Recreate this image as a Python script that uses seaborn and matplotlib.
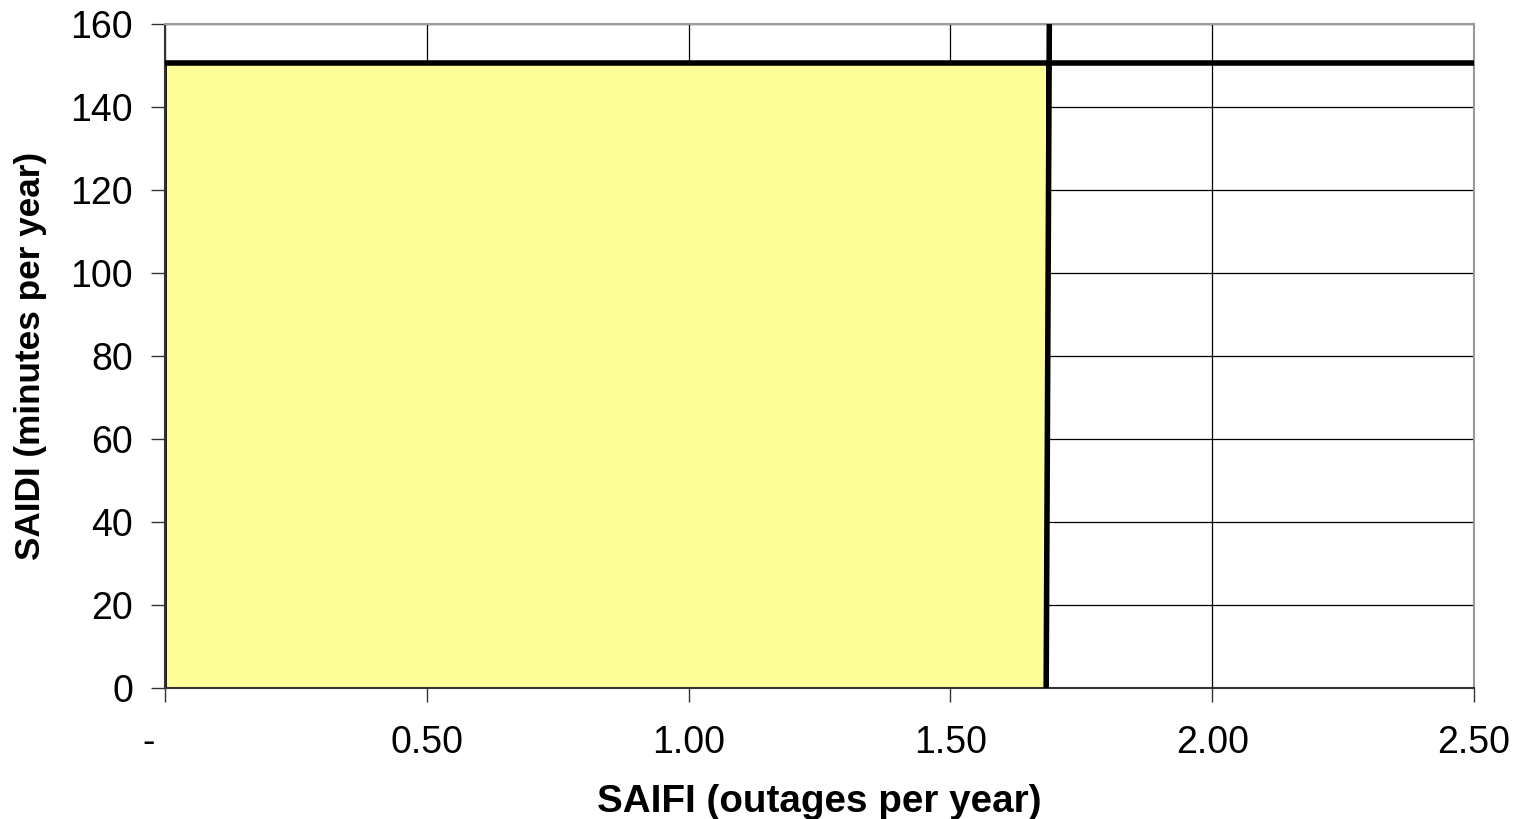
import numpy as np
import pandas as pd
import matplotlib
matplotlib.use("Agg")
import matplotlib.pyplot as plt
import seaborn as sns

# data
saifi_limit = [1.683, 1.689]      # vertical threshold line (bottom, top)
saidi_limit = 150.5               # horizontal threshold line
x_range = [0.0, 2.5]
y_range = [0.0, 160.0]
box_x = [0.0, 1.685]              # yellow "acceptable" region
x_ticks = [0.0, 0.5, 1.0, 1.5, 2.0, 2.5]
x_tick_labels = ["-   ", "0.50", "1.00", "1.50", "2.00", "2.50"]
y_ticks = [0, 20, 40, 60, 80, 100, 120, 140, 160]

sns.set_style("white")
plt.rcParams["font.family"] = ["Liberation Sans", "DejaVu Sans"]
plt.rcParams["text.color"] = "black"
plt.rcParams["axes.labelcolor"] = "black"

fig = plt.figure(figsize=(15.23, 8.19), dpi=100)
ax = fig.add_axes([0.1083, 0.16, 0.8595, 0.8107])

# region
ax.fill_between(box_x, [0, 0], [saidi_limit, saidi_limit], color="#FFFF99",
                edgecolor="black", linewidth=2, zorder=2)

h_line = pd.DataFrame({"x": x_range, "y": [saidi_limit, saidi_limit]})
v_line = pd.DataFrame({"x": saifi_limit, "y": y_range})
sns.lineplot(data=h_line, x="x", y="y", color="black", linewidth=4,
             sort=False, estimator=None, ax=ax, zorder=4)
sns.lineplot(data=v_line, x="x", y="y", color="black", linewidth=4,
             sort=False, estimator=None, ax=ax, zorder=4)

ax.set_xlim(x_range)
ax.set_ylim(y_range)
ax.set_xticks(x_ticks)
ax.set_xticklabels(x_tick_labels)
ax.set_yticks(y_ticks)

ax.grid(True, color="black", linewidth=0.9, zorder=0)
ax.set_axisbelow(True)

for side in ["top", "right"]:
    ax.spines[side].set_color("#999999")
    ax.spines[side].set_linewidth(1.5)
for side in ["left", "bottom"]:
    ax.spines[side].set_color("#333333")
    ax.spines[side].set_linewidth(1.5)

ax.tick_params(axis="both", which="major", direction="out", length=10,
               width=1, color="#333333", labelsize=27, labelcolor="black",
               bottom=True, left=True)
ax.tick_params(axis="x", pad=17)
ax.tick_params(axis="y", pad=13)

ax.set_xlabel("SAIFI (outages per year)", fontsize=27.8, fontweight="bold",
              labelpad=16, color="black")
ax.set_ylabel("SAIDI (minutes per year)", fontsize=25.3, fontweight="bold",
              labelpad=17, color="black")

fig.savefig("out.png", dpi=100)
